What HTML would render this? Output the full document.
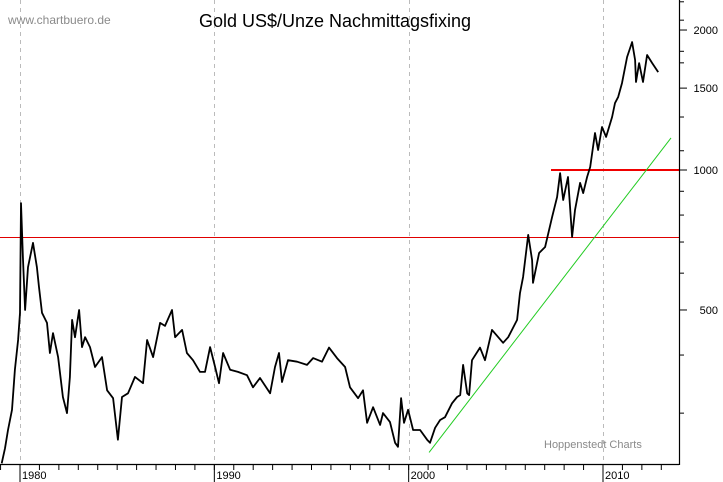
<!DOCTYPE html>
<html><head><meta charset="utf-8"><style>
html,body{margin:0;padding:0;background:#fff;}
svg{display:block;font-family:"Liberation Sans",Arial,sans-serif;}
</style></head><body>
<svg id="chart" width="723" height="482" viewBox="0 0 723 482">
<rect x="0" y="0" width="723" height="482" fill="#fff"/>
<g id="grid"></g>
<g id="refs"></g>
<path id="series" fill="none" stroke="#000" stroke-width="1.8" stroke-linejoin="round"/>
<g id="axes"></g>
<text x="8" y="24" font-size="12" fill="#8a8a8a">www.chartbuero.de</text>
<text x="335" y="27" font-size="18" text-anchor="middle" fill="#000">Gold US$/Unze Nachmittagsfixing</text>
<text x="544" y="448" font-size="11" fill="#8a8a8a">Hoppenstedt Charts</text>
</svg>
<script>
const years = [1979.06,1979.23,1979.38,1979.59,1979.74,1979.9,1980.0,1980.05,1980.15,1980.26,1980.41,1980.67,1980.87,1980.98,1981.13,1981.39,1981.54,1981.70,1981.96,1982.21,1982.42,1982.57,1982.68,1982.83,1983.04,1983.19,1983.35,1983.60,1983.86,1984.22,1984.48,1984.79,1985.04,1985.25,1985.56,1985.92,1986.33,1986.54,1986.85,1987.21,1987.46,1987.82,1987.98,1988.34,1988.59,1988.90,1989.26,1989.52,1989.78,1990.04,1990.24,1990.45,1990.81,1991.22,1991.68,1991.99,1992.35,1992.87,1993.12,1993.33,1993.48,1993.79,1994.26,1994.77,1995.08,1995.54,1995.90,1996.31,1996.73,1996.98,1997.40,1997.65,1997.86,1998.17,1998.53,1998.68,1999.04,1999.30,1999.45,1999.61,1999.76,1999.97,2000.23,2000.59,2000.95,2001.10,2001.36,2001.62,2001.87,2002.23,2002.49,2002.65,2002.80,2003.01,2003.11,2003.26,2003.67,2003.93,2004.29,2004.86,2005.12,2005.58,2005.73,2005.89,2006.15,2006.35,2006.40,2006.71,2007.02,2007.38,2007.64,2007.79,2007.95,2008.20,2008.41,2008.56,2008.82,2008.98,2009.18,2009.34,2009.59,2009.75,2009.95,2010.16,2010.47,2010.62,2010.78,2010.98,2011.24,2011.50,2011.65,2011.70,2011.86,2012.06,2012.27,2012.53,2012.84,2013.04,2013.25];
const prices = [234,252,276,305,372,431,493,849,650,500,618,697,618,560,493,469,404,446,396,325,300,359,476,437,500,416,437,416,377,396,336,323,263,325,331,359,348,431,396,469,462,500,437,453,404,390,368,368,416,377,348,404,372,368,362,341,357,331,377,404,350,390,387,381,394,387,415,394,377,341,323,336,286,309,283,300,287,259,254,323,286,305,276,276,263,259,279,290,294,315,325,328,381,331,328,390,415,390,453,425,437,476,544,589,725,640,572,663,683,792,875,985,862,966,718,820,938,892,966,1015,1201,1104,1237,1178,1300,1393,1436,1538,1750,1884,1724,1546,1698,1546,1767,1698,1624];
const yAxisTicks = [500,1000,1500,2000];
const xAxisTicks = [1980,1990,2000,2010];
const trendStart = [2001.05,247];
const trendEnd = [2013.5,1172];
const resistanceStart = 2007.33;
const resistanceLevel = 1000;
const supportLevel = 718;

const X0=20, X1=603, Y1000=170, K=465, RIGHT=679, BOTTOM=464;
function xs(yr){return X0+(yr-1980)*(X1-X0)/30;}
function ys(v){return Y1000-K*Math.log10(v/1000);}
const NS="http://www.w3.org/2000/svg";
function mk(tag,attrs,parent){const e=document.createElementNS(NS,tag);for(const k in attrs)e.setAttribute(k,attrs[k]);parent.appendChild(e);return e;}

const grid=document.getElementById('grid');
xAxisTicks.forEach(t=>{
  const gx=Math.round(xs(t))+0.5;
  const l=mk('line',{x1:gx,x2:gx,y1:0,y2:BOTTOM,stroke:'#bbb','stroke-dasharray':'4,4'},grid);
  
  
});

const refs=document.getElementById('refs');
const sy=Math.round(ys(supportLevel))+0.5;
const sup=mk('line',{x1:0,x2:RIGHT,y1:sy,y2:sy,stroke:'#e00000','stroke-width':1,'shape-rendering':'crispEdges'},refs);


const ry=Math.round(ys(resistanceLevel));
const res=mk('line',{x1:xs(resistanceStart),x2:RIGHT,y1:ry,y2:ry,stroke:'#f00000','stroke-width':2,'shape-rendering':'crispEdges'},refs);


const tr=mk('line',{x1:xs(trendStart[0]),y1:ys(trendStart[1]),x2:xs(trendEnd[0]),y2:ys(trendEnd[1]),stroke:'#22cc22','stroke-width':1},refs);



let d='';
years.forEach((yr,i)=>{d+=(i?'L':'M')+xs(yr).toFixed(1)+','+ys(prices[i]).toFixed(1);});
document.getElementById('series').setAttribute('d',d);

const axes=document.getElementById('axes');
const ax1=mk('line',{x1:RIGHT+0.5,x2:RIGHT+0.5,y1:0,y2:BOTTOM+1,stroke:'#000','stroke-width':1.2},axes);


const ax2=mk('line',{x1:0,x2:RIGHT,y1:BOTTOM+0.5,y2:BOTTOM+0.5,stroke:'#000','stroke-width':1.2},axes);


[2500,2300,2100,1800,1700,1300,1100,900,800,700,600,400,300].forEach(v=>{
  const m=mk('line',{x1:RIGHT,x2:RIGHT+5,y1:ys(v),y2:ys(v),stroke:'#000'},axes);
  
  
});
yAxisTicks.forEach(v=>{
  const m=mk('line',{x1:RIGHT,x2:RIGHT+8,y1:ys(v),y2:ys(v),stroke:'#000'},axes);
  
  
  const t=mk('text',{x:718,y:ys(v)+4,'font-size':11,'text-anchor':'end',fill:'#000'},axes);
  t.textContent=v;
  
  
});
for(let yr=1979;yr<=2013;yr++){
  const m=mk('line',{x1:xs(yr),x2:xs(yr),y1:BOTTOM,y2:BOTTOM+6,stroke:'#000'},axes);
  
  
}
xAxisTicks.forEach(yr=>{
  const m=mk('line',{x1:xs(yr),x2:xs(yr),y1:BOTTOM,y2:482,stroke:'#000'},axes);
  
  
  const t=mk('text',{x:xs(yr)+2,y:479,'font-size':11,fill:'#000'},axes);
  t.textContent=yr;
  
  
});
</script>
</body></html>
